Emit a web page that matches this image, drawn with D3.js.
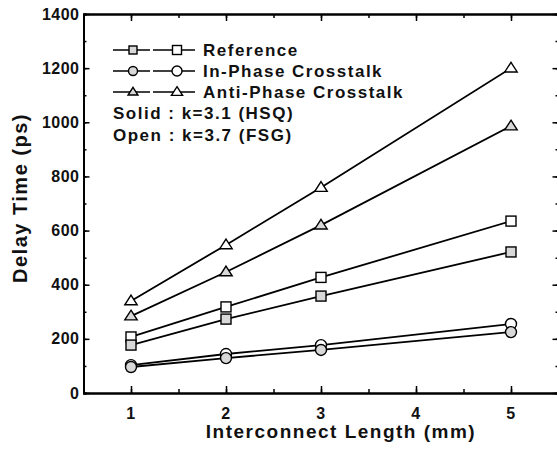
<!DOCTYPE html>
<html lang="en">
<head>
<meta charset="utf-8">
<title>Delay time vs interconnect length</title>
<script src="https://d3js.org/d3.v7.min.js"></script>
<style>
  body { margin: 0; background: #fff; }
  text { font-family: "Liberation Sans", Arial, sans-serif; font-weight: bold; fill: #111; letter-spacing: 1.5px; }
</style>
</head>
<body>
<script>
// data (ps)
var lengths = [1, 2, 3, 5];
var refOpen = [207, 318, 427, 635];
var refSolid = [177, 273, 358, 521];
var inOpen = [103, 144, 177, 255];
var inSolid = [96, 129, 159, 225];
var antiOpen = [340, 547, 759, 1200];
var antiSolid = [284, 447, 620, 986];

var xTicks = [1, 2, 3, 4, 5];
var yTicks = [0, 200, 400, 600, 800, 1000, 1200, 1400];
var legendNames = ["Reference", "In-Phase Crosstalk", "Anti-Phase Crosstalk"];
var noteLines = ["Solid : k=3.1 (HSQ)", "Open : k=3.7 (FSG)"];

var width = 557, height = 459;
var solidFill = "#d8d8d8";

var series = [
  { shape: "square", solid: false, values: refOpen },
  { shape: "square", solid: true, values: refSolid },
  { shape: "circle", solid: false, values: inOpen },
  { shape: "circle", solid: true, values: inSolid },
  { shape: "triangle", solid: false, values: antiOpen },
  { shape: "triangle", solid: true, values: antiSolid }
];

var svg = d3.select("body").append("svg")
  .attr("width", width)
  .attr("height", height);

var x = d3.scaleLinear().domain([0.5, 5.5]).range([83.5, 558.5]);
var y = d3.scaleLinear().domain([0, 1400]).range([393, 14]);

var minorX = d3.range(0.5, 5.51, 0.5);
var minorY = d3.range(0, 1401, 100);
var fmt = d3.format("d");

function axisStyle(g) {
  g.select(".domain").attr("stroke", "#000").attr("stroke-width", 2);
  g.selectAll(".tick line").attr("stroke", "#000").attr("stroke-width", 1.5);
}

// minor ticks first, then major
svg.append("g").attr("transform", "translate(0,393)")
  .call(d3.axisBottom(x).tickValues(minorX).tickSize(-4).tickFormat(""))
  .call(axisStyle);
svg.append("g").attr("transform", "translate(0,14)")
  .call(d3.axisTop(x).tickValues(minorX).tickSize(-4).tickFormat(""))
  .call(axisStyle);
svg.append("g").attr("transform", "translate(83.5,0)")
  .call(d3.axisLeft(y).tickValues(minorY).tickSize(-3).tickFormat(""))
  .call(axisStyle);
svg.append("g").attr("transform", "translate(558.5,0)")
  .call(d3.axisRight(y).tickValues(minorY).tickSize(-3).tickFormat(""))
  .call(axisStyle);

var xAxis = svg.append("g").attr("transform", "translate(0,393)")
  .call(d3.axisBottom(x).tickValues(xTicks).tickFormat(fmt).tickSizeInner(-7).tickSizeOuter(0).tickPadding(15))
  .call(axisStyle);
xAxis.selectAll(".tick text").attr("font-size", 16).attr("font-family", null);

svg.append("g").attr("transform", "translate(0,14)")
  .call(d3.axisTop(x).tickValues(xTicks).tickSizeInner(-7).tickSizeOuter(0).tickFormat(""))
  .call(axisStyle);

var yAxis = svg.append("g").attr("transform", "translate(83.5,0)")
  .call(d3.axisLeft(y).tickValues(yTicks).tickFormat(fmt).tickSizeInner(-6).tickSizeOuter(0).tickPadding(4))
  .call(axisStyle);
yAxis.selectAll(".tick text").attr("font-size", 16).attr("font-family", null).style("letter-spacing", "0.5px");

svg.append("g").attr("transform", "translate(558.5,0)")
  .call(d3.axisRight(y).tickValues(yTicks).tickSizeInner(-6).tickSizeOuter(0).tickFormat(""))
  .call(axisStyle);

// axis titles
svg.append("text")
  .attr("x", 341).attr("y", 438)
  .attr("text-anchor", "middle")
  .attr("font-size", 19)
  .text("Interconnect Length (mm)");

svg.append("text")
  .attr("transform", "translate(27,198) rotate(-90)")
  .attr("text-anchor", "middle")
  .attr("font-size", 20)
  .text("Delay Time (ps)");

// markers
function drawMarker(g, shape, cx, cy, fill, s) {
  if (shape === "square") {
    g.append("rect").attr("x", cx - s / 2).attr("y", cy - s / 2)
      .attr("width", s).attr("height", s);
  } else if (shape === "circle") {
    g.append("circle").attr("cx", cx).attr("cy", cy).attr("r", s / 2 + 0.5);
  } else {
    var h = s * 0.95;
    g.append("path").attr("d", d3.line()([
      [cx, cy - h * 0.62], [cx + s * 0.62, cy + h * 0.4], [cx - s * 0.62, cy + h * 0.4]
    ]) + "Z");
  }
  g.selectAll("*").attr("fill", fill).attr("stroke", "#000").attr("stroke-width", 1.4);
}

var line = d3.line()
  .x(function(d) { return x(d[0]); })
  .y(function(d) { return y(d[1]); });

series.forEach(function(s) {
  var pts = lengths.map(function(l, i) { return [l, s.values[i]]; });
  svg.append("path")
    .attr("d", line(pts))
    .attr("fill", "none")
    .attr("stroke", "#000")
    .attr("stroke-width", 1.8);
});

series.forEach(function(s) {
  lengths.forEach(function(l, i) {
    drawMarker(svg.append("g"), s.shape, x(l), y(s.values[i]), s.solid ? solidFill : "#fff", 10);
  });
});

// legend
var legendY = [50, 71, 92];
var shapes = ["square", "circle", "triangle"];
legendNames.forEach(function(name, i) {
  var ly = legendY[i];
  var g = svg.append("g");
  [[113, 150], [153, 195]].forEach(function(seg) {
    g.append("line").attr("x1", seg[0]).attr("x2", seg[1])
      .attr("y1", ly).attr("y2", ly)
      .attr("stroke", "#000").attr("stroke-width", 1.6);
  });
  drawMarker(svg.append("g"), shapes[i], 133, ly, solidFill, 8);
  drawMarker(svg.append("g"), shapes[i], 177, ly, "#fff", 9);
  svg.append("text")
    .attr("x", 203).attr("y", ly + 6)
    .attr("font-size", 17)
    .text(name);
});

noteLines.forEach(function(t, i) {
  svg.append("text")
    .attr("x", 113).attr("y", 119 + i * 22)
    .attr("font-size", 17)
    .text(t);
});
</script>
</body>
</html>
